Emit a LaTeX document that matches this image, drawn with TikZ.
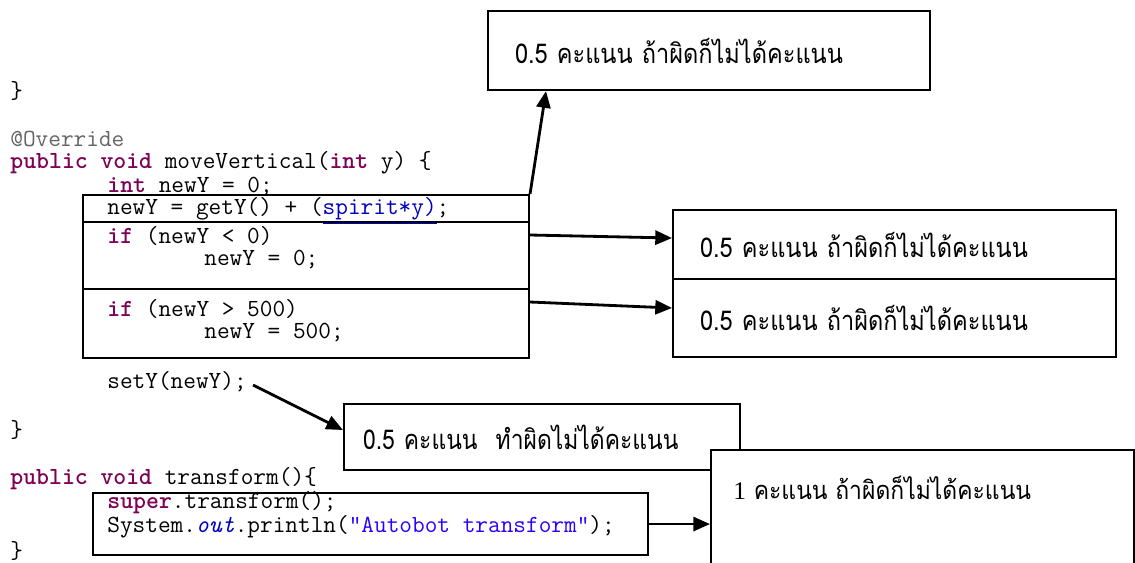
\documentclass[tikz,border=0pt]{standalone}
\usepackage{fontspec}
\usepackage{tikz}
\usepackage{color}
\usetikzlibrary{arrows.meta,calc}

\newfontfamily\thaifont[Script=Thai, FakeStretch=0.865]{Loma}
\newfontfamily\thainarrow[Script=Thai, FakeStretch=0.84]{Loma}
\newfontfamily\thaiserif[Script=Thai, FakeStretch=0.9]{Loma}
\newfontfamily\serifnum{Liberation Serif}

\definecolor{kw}{HTML}{7F0055}
\definecolor{anno}{HTML}{646464}
\definecolor{fld}{HTML}{0000C0}
\definecolor{str}{HTML}{2A00FF}

\newcommand{\kw}[1]{\textcolor{kw}{\textbf{#1}}}

\begin{document}
\begin{tikzpicture}[x=0.02cm, y=-0.02cm,
  code/.style={anchor=west, inner sep=0pt, font=\ttfamily\fontsize{14pt}{15pt}\selectfont},
  part/.style={draw, line width=1.2pt, anchor=north west, inner sep=0pt},
  note/.style={draw, line width=1.2pt, anchor=north west, fill=white,
    align=left, inner xsep=0pt,
    font=\thaifont\fontsize{15.5pt}{17pt}\selectfont},
  pointer/.style={line width=1.6pt, -{Triangle[length=9.5pt, width=8pt]}}]
\clip (0,0) rectangle (1135,562);

% code of the two methods
\node[code] (c1)  at (10,91)  {\}};
\node[code, text=anno] (c2) at (10,139) {@Override};
\node[code] (c3)  at (10,163) {\kw{public} \kw{void} moveVertical(\kw{int} y) \{};
\node[code] (c4)  at (107,187) {\kw{int} newY = 0;};
\node[code] (c5)  at (107,211) {newY = getY() + (\textcolor{fld}{\underline{spirit*y)}};};
\node[code] (c6)  at (107,236) {\kw{if} (newY < 0)};
\node[code] (c7)  at (204,260) {newY = 0;};
\node[code] (c8)  at (107,309) {\kw{if} (newY > 500)};
\node[code] (c9)  at (204,333) {newY = 500;};
\node[code] (setY) at (107,382) {setY(newY);};
\node[code] (c11) at (10,430) {\}};
\node[code] (c12) at (10,479) {\kw{public} \kw{void} transform()\{};
\node[code] (c13) at (107,503) {\kw{super}.transform();};
\node[code] (c14) at (107,527) {System.\textcolor{fld}{\textit{out}}.println(\textcolor{str}{"Autobot transform"});};
\node[code] (c15) at (10,551) {\}};

% boxes round the marked parts
\node[part, minimum width=8.92cm, minimum height=0.54cm] (bA1) at (82,194) {};
\node[part, minimum width=8.92cm, minimum height=1.34cm] (bA2) at (82,221) {};
\node[part, minimum width=8.92cm, minimum height=1.38cm] (bA3) at (82,288) {};
\node[part, minimum width=11.1cm, minimum height=1.24cm] (bE) at (92,492) {};

% score notes
\node[note, minimum width=8.84cm, minimum height=1.58cm, text width=8.84cm] (bB) at (487,10)
  {\hspace{0.54cm}0.5 คะแนน ถ้าผิดก็ไม่ได้คะแนน};
\node[note, minimum width=8.86cm, minimum height=1.38cm, text width=8.86cm] (bC1) at (672,209)
  {\hspace{0.54cm}0.5 คะแนน ถ้าผิดก็ไม่ได้คะแนน};
\node[note, minimum width=8.86cm, minimum height=1.56cm, text width=8.86cm] (bC2) at (672,278)
  {\hspace{0.54cm}0.5 คะแนน ถ้าผิดก็ไม่ได้คะแนน};
\node[note, font=\thainarrow\fontsize{15.5pt}{17pt}\selectfont,
  minimum width=7.92cm, minimum height=1.32cm, text width=7.92cm] (bD) at (343,403)
  {\hspace{0.38cm}0.5 คะแนน\ \ ทำผิดไม่ได้คะแนน};
\node[part, fill=white, minimum width=8.46cm, minimum height=3cm] (bF) at (710,449) {};
\node[anchor=west, inner sep=0pt, font=\thaiserif\fontsize{14.5pt}{16pt}\selectfont] (tF)
  at ($(bF.north west)+(23,39)$) {{\serifnum 1} คะแนน ถ้าผิดก็ไม่ได้คะแนน};

% arrows
\draw[pointer] (bA1.north east) -- ($(bB.south west)+(59,0)$);
\draw[pointer] ($(bA2.north east)+(0,14)$) -- ($(bC1.north west)+(0,29)$);
\draw[pointer] ($(bA3.north east)+(0,14)$) -- ($(bC2.north west)+(0,30)$);
\draw[pointer] ($(setY.east)+(6,3)$) -- ($(bD.north west)+(0,27)$);
\draw[pointer] (bE.east) -- (bE.east -| bF.west);
\end{tikzpicture}
\end{document}
